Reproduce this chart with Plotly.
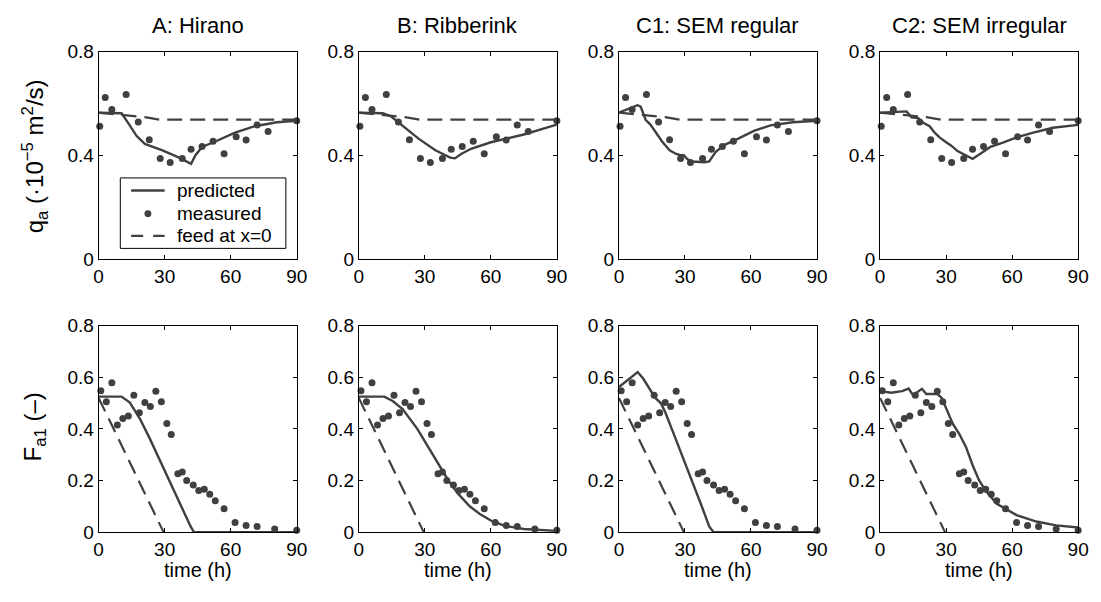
import plotly.graph_objects as go

# ---------------- data ----------------
panel_titles = ["A: Hirano", "B: Ribberink", "C1: SEM regular", "C2: SEM irregular"]
legend_labels = ["predicted", "measured", "feed at x=0"]

# measured transport rate q_a (1e-5 m2/s)
t_meas_q = [0.5, 3, 6, 12.5, 18, 23, 28, 32.5, 38, 42, 47, 52, 57, 62.5, 67, 72, 77, 90]
qa_meas = [0.512, 0.623, 0.576, 0.634, 0.528, 0.46, 0.387, 0.372, 0.387, 0.423,
           0.434, 0.454, 0.406, 0.471, 0.459, 0.517, 0.492, 0.533]

# measured fraction F_a1
t_meas_f = [1, 3.5, 6, 8.5, 11, 13.5, 16, 18.5, 21, 23.5, 26, 28.5, 31, 33, 36, 38,
            40, 43, 45.5, 48, 50.5, 53, 57, 62, 67, 72, 80, 90]
fa_meas = [0.548, 0.505, 0.579, 0.415, 0.44, 0.45, 0.53, 0.462, 0.502, 0.487, 0.546,
           0.505, 0.421, 0.378, 0.226, 0.233, 0.2, 0.183, 0.161, 0.166, 0.147, 0.122,
           0.091, 0.037, 0.026, 0.022, 0.012, 0.007]

# feed at x=0
t_feed_q = [0, 21, 28, 90]
qa_feed = [0.564, 0.547, 0.537, 0.537]
t_feed_f = [0, 29.5]
fa_feed = [0.52, 0.0]

# predicted q_a
t_pred_q_A = [0, 10.4, 13.4, 17.2, 21, 29, 36.6, 41, 42, 44, 47, 53, 62, 71, 81, 90]
qa_pred_A = [0.564, 0.562, 0.525, 0.475, 0.444, 0.419, 0.391, 0.37, 0.367, 0.40,
             0.432, 0.453, 0.487, 0.512, 0.527, 0.533]
t_pred_q_B = [0, 10.9, 14.6, 19.9, 27.3, 34.8, 41.5, 43.7, 46.5, 51, 60, 75, 90]
qa_pred_B = [0.564, 0.562, 0.55, 0.515, 0.463, 0.419, 0.391, 0.388, 0.405, 0.425,
             0.45, 0.48, 0.518]
t_pred_q_C1 = [0, 8.4, 9.9, 12.1, 14.3, 16.6, 19.6, 23, 26, 28, 29.5, 31, 33, 39, 41,
               44, 48, 54, 61.3, 68.8, 79, 90]
qa_pred_C1 = [0.564, 0.593, 0.587, 0.537, 0.518, 0.49, 0.453, 0.419, 0.405, 0.40,
              0.40, 0.385, 0.376, 0.373, 0.376, 0.413, 0.44, 0.463, 0.494, 0.515,
              0.527, 0.533]
t_pred_q_C2 = [0, 12, 14.3, 17.3, 19.6, 22.5, 24.8, 27, 30, 32.2, 35.2, 39, 42, 45.7,
               50.1, 56.1, 62, 69.6, 78.5, 90]
qa_pred_C2 = [0.564, 0.569, 0.546, 0.543, 0.525, 0.512, 0.487, 0.469, 0.45, 0.438,
              0.416, 0.40, 0.386, 0.407, 0.432, 0.45, 0.469, 0.487, 0.506, 0.517]

# predicted F_a1
t_pred_f_A = [0, 10.4, 14.2, 18.7, 23.1, 29.1, 36.6, 41.8, 43.3, 90]
fa_pred_A = [0.525, 0.525, 0.502, 0.44, 0.365, 0.253, 0.116, 0.022, 0.0, 0.0]
t_pred_f_B = [0, 11.6, 15.4, 19.9, 26.6, 31.8, 36.5, 40.7, 45, 50.4, 55, 60, 66, 75, 90]
fa_pred_B = [0.525, 0.525, 0.508, 0.477, 0.40, 0.328, 0.26, 0.2, 0.15, 0.1, 0.07,
             0.045, 0.025, 0.012, 0.005]
t_pred_f_C1 = [0, 8.5, 11, 14, 16.5, 19, 21, 24, 28.5, 33, 37.5, 41, 43, 90]
fa_pred_C1 = [0.562, 0.62, 0.595, 0.555, 0.52, 0.5, 0.465, 0.40, 0.303, 0.203, 0.103,
              0.022, 0.0, 0.0]
t_pred_f_C2 = [0, 5, 10, 13, 15, 19, 21, 26, 28, 31, 33, 36, 39, 42, 45, 48, 53, 62,
               71, 80, 90]
fa_pred_C2 = [0.546, 0.54, 0.546, 0.556, 0.53, 0.555, 0.535, 0.535, 0.52, 0.46, 0.42,
              0.38, 0.33, 0.26, 0.2, 0.16, 0.11, 0.066, 0.041, 0.026, 0.018]

pred_q = [(t_pred_q_A, qa_pred_A), (t_pred_q_B, qa_pred_B),
          (t_pred_q_C1, qa_pred_C1), (t_pred_q_C2, qa_pred_C2)]
pred_f = [(t_pred_f_A, fa_pred_A), (t_pred_f_B, fa_pred_B),
          (t_pred_f_C1, fa_pred_C1), (t_pred_f_C2, fa_pred_C2)]

x_ticks = [0, 30, 60, 90]
q_ticks = [0, 0.4, 0.8]
f_ticks = [0, 0.2, 0.4, 0.6, 0.8]

# ---------------- layout geometry ----------------
W, H = 1101, 602
col_px = [(95, 296), (359, 560), (623, 824), (888, 1089)]
row_px = [(43, 258), (327, 541)]

CLR = "#404040"
DASH = "15px,8px"
FONT = "Liberation Sans, Arial, Helvetica, sans-serif"


def px(x):
    return x / W


def py(y):
    return (H - y) / H


fig = go.Figure()
layout = {}

for r in range(2):
    for c in range(4):
        idx = r * 4 + c + 1
        xa = "x" if idx == 1 else f"x{idx}"
        ya = "y" if idx == 1 else f"y{idx}"
        if r == 0:
            tp, vp = pred_q[c]
            tm, vm = t_meas_q, qa_meas
            tf, vf = t_feed_q, qa_feed
        else:
            tp, vp = pred_f[c]
            tm, vm = t_meas_f, fa_meas
            tf, vf = t_feed_f, fa_feed
        fig.add_trace(go.Scatter(x=tf, y=vf, mode="lines", name=legend_labels[2],
                                 line=dict(color=CLR, width=2.2, dash=DASH),
                                 xaxis=xa, yaxis=ya, showlegend=False))
        fig.add_trace(go.Scatter(x=tp, y=vp, mode="lines", name=legend_labels[0],
                                 line=dict(color=CLR, width=2.4),
                                 xaxis=xa, yaxis=ya, showlegend=False))
        fig.add_trace(go.Scatter(x=tm, y=vm, mode="markers", name=legend_labels[1],
                                 marker=dict(color=CLR, size=7),
                                 xaxis=xa, yaxis=ya, showlegend=False,
                                 cliponaxis=False))
        x0, x1 = col_px[c]
        y0, y1 = row_px[r]
        common = dict(showline=True, mirror="ticks", linecolor="black", linewidth=1,
                      ticks="inside", ticklen=4, tickcolor="black", tickwidth=1,
                      showgrid=False, zeroline=False,
                      tickfont=dict(size=19, color="black", family=FONT))
        yt = q_ticks if r == 0 else f_ticks
        layout["xaxis" if idx == 1 else f"xaxis{idx}"] = dict(
            domain=[px(x0), px(x1)], range=[0, 90], tickvals=x_ticks,
            anchor=ya, **common)
        layout["yaxis" if idx == 1 else f"yaxis{idx}"] = dict(
            domain=[py(y1), py(y0)], range=[0, 0.8],
            tickvals=yt, ticktext=[("0" if v == 0 else f"{v:g}") for v in yt],
            anchor=xa, **common)

annotations = []
for c, title in enumerate(panel_titles):
    xc = px((col_px[c][0] + col_px[c][1]) / 2)
    annotations.append(dict(text=title, x=xc, y=py(16), xref="paper", yref="paper",
                            showarrow=False, xanchor="center", yanchor="middle",
                            font=dict(size=22, color="black", family=FONT)))
    annotations.append(dict(text="time (h)", x=xc, y=py(580), xref="paper",
                            yref="paper", showarrow=False, xanchor="center",
                            yanchor="middle",
                            font=dict(size=20, color="black", family=FONT)))

annotations.append(dict(text="q<sub>a</sub> (·10<sup>−5</sup> m<sup>2</sup>/s)",
                        x=px(30), y=py(152), xref="paper", yref="paper",
                        showarrow=False, textangle=-90, xanchor="center",
                        yanchor="middle", font=dict(size=24, color="black", family=FONT)))
annotations.append(dict(text="F<sub>a1</sub> (–)",
                        x=px(30), y=py(432), xref="paper", yref="paper",
                        showarrow=False, textangle=-90, xanchor="center",
                        yanchor="middle", font=dict(size=24, color="black", family=FONT)))

# legend box drawn inside panel A (top)
leg_rows = [187, 211, 234]
shapes = [
    dict(type="rect", xref="paper", yref="paper", x0=px(117), x1=px(285),
         y0=py(247), y1=py(174), line=dict(color="black", width=1),
         fillcolor="white", layer="above"),
    dict(type="line", xref="paper", yref="paper", x0=px(128), x1=px(162),
         y0=py(leg_rows[0]), y1=py(leg_rows[0]), line=dict(color=CLR, width=2.4),
         layer="above"),
    dict(type="circle", xref="paper", yref="paper", x0=px(141.5), x1=px(148.5),
         y0=py(leg_rows[1] + 3.5), y1=py(leg_rows[1] - 3.5),
         line=dict(color=CLR, width=0), fillcolor=CLR, layer="above"),
    dict(type="line", xref="paper", yref="paper", x0=px(128), x1=px(162),
         y0=py(leg_rows[2]), y1=py(leg_rows[2]),
         line=dict(color=CLR, width=2.2, dash="12px,10px"), layer="above"),
]
for lab, yy in zip(legend_labels, leg_rows):
    annotations.append(dict(text=lab, x=px(172), y=py(yy), xref="paper", yref="paper",
                            showarrow=False, xanchor="left", yanchor="middle",
                            font=dict(size=19, color="black", family=FONT)))

fig.update_layout(
    width=W, height=H, margin=dict(l=0, r=0, t=0, b=0),
    paper_bgcolor="white", plot_bgcolor="white",
    font=dict(family=FONT, size=19, color="black"),
    showlegend=False,
    annotations=annotations,
    shapes=shapes,
    **layout,
)

fig.write_html("out.html")
